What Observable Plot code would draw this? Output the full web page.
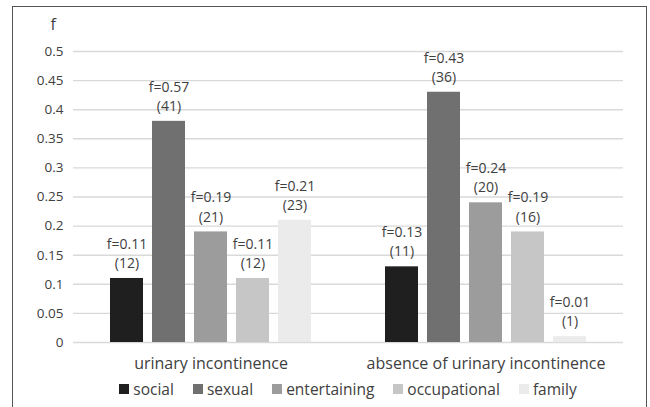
<!DOCTYPE html>
<html><head><meta charset="utf-8">
<script src="https://cdn.jsdelivr.net/npm/d3@7"></script>
<script src="https://cdn.jsdelivr.net/npm/@observablehq/plot@0.6"></script>
<style>
body{margin:0;background:#fff;font-family:"Open Sans",sans-serif;}
#chart{position:absolute;left:0;top:0;}
#frame{position:absolute;left:12px;top:6px;width:635px;height:410px;border:1px solid #555;box-sizing:border-box;background:transparent;pointer-events:none;}
#legend{position:absolute;left:72px;width:552px;top:379px;display:flex;justify-content:center;gap:19px;font-size:15.5px;color:#404040;line-height:20px;}
.item{display:flex;align-items:center;gap:4px;}
.sw{width:10px;height:10px;display:inline-block;}
</style></head><body>
<div id="chart"></div><div id="legend"></div><div id="frame"></div>
<script>
const groups = ["urinary incontinence", "absence of urinary incontinence"];
const series = ["social", "sexual", "entertaining", "occupational", "family"];
const colors = ["#1f1f1f", "#707070", "#9c9c9c", "#c6c6c6", "#ebebeb"];
const valuesUI = [0.11, 0.38, 0.19, 0.11, 0.21];
const valuesAbsence = [0.13, 0.43, 0.24, 0.19, 0.01];
const labelsUI = ["f=0.11\n(12)", "f=0.57\n(41)", "f=0.19\n(21)", "f=0.11\n(12)", "f=0.21\n(23)"];
const labelsAbsence = ["f=0.13\n(11)", "f=0.43\n(36)", "f=0.24\n(20)", "f=0.19\n(16)", "f=0.01\n(1)"];
const yTicks = [0, 0.05, 0.1, 0.15, 0.2, 0.25, 0.3, 0.35, 0.4, 0.45, 0.5];
const yLabel = "f";

const data = [];
series.forEach((s, i) => {
  data.push({group: groups[0], series: s, value: valuesUI[i], label: labelsUI[i]});
  data.push({group: groups[1], series: s, value: valuesAbsence[i], label: labelsAbsence[i]});
});

const plot = Plot.plot({
  width: 650,
  height: 376,
  marginLeft: 72,
  marginRight: 27,
  marginTop: 51,
  marginBottom: 34,
  style: {fontFamily: "Open Sans", color: "#404040", background: "transparent"},
  fx: {domain: groups, padding: 0, label: null},
  x: {domain: series, paddingInner: 0.22, paddingOuter: 0.87, axis: null},
  y: {domain: [0, 0.5], label: null},
  color: {domain: series, range: colors},
  marks: [
    Plot.gridY(yTicks, {stroke: "#d9d9d9", strokeOpacity: 1, strokeWidth: 1.4}),
    Plot.axisY(yTicks, {tickSize: 0, tickPadding: 10, fontSize: 13.5, fill: "#404040", tickFormat: d => String(+d.toFixed(2)), label: null}),
    Plot.axisFx({label: null, ticks: []}),
    Plot.barY(data, {fx: "group", x: "series", y: "value", fill: "series"}),
    Plot.text(data, {fx: "group", x: "series", y: "value", text: "label", lineAnchor: "middle", lineHeight: 1.36, dy: -26, fontSize: 14, fill: "#404040"}),
    Plot.text(groups, {fx: d => d, text: d => d, frameAnchor: "bottom", dy: 21, fontSize: 16, fill: "#404040", lineAnchor: "middle"}),
    Plot.text([yLabel], {fx: () => groups[0], text: d => d, frameAnchor: "top-left", dx: -23, dy: -27, fontSize: 16, fill: "#404040", lineAnchor: "middle"})
  ]
});
document.getElementById("chart").appendChild(plot);

const legend = document.getElementById("legend");
series.forEach((s, i) => {
  const it = document.createElement("div");
  it.className = "item";
  const sw = document.createElement("span");
  sw.className = "sw";
  sw.style.background = colors[i];
  const t = document.createElement("span");
  t.textContent = s;
  it.appendChild(sw); it.appendChild(t);
  legend.appendChild(it);
});
</script>
</body></html>
